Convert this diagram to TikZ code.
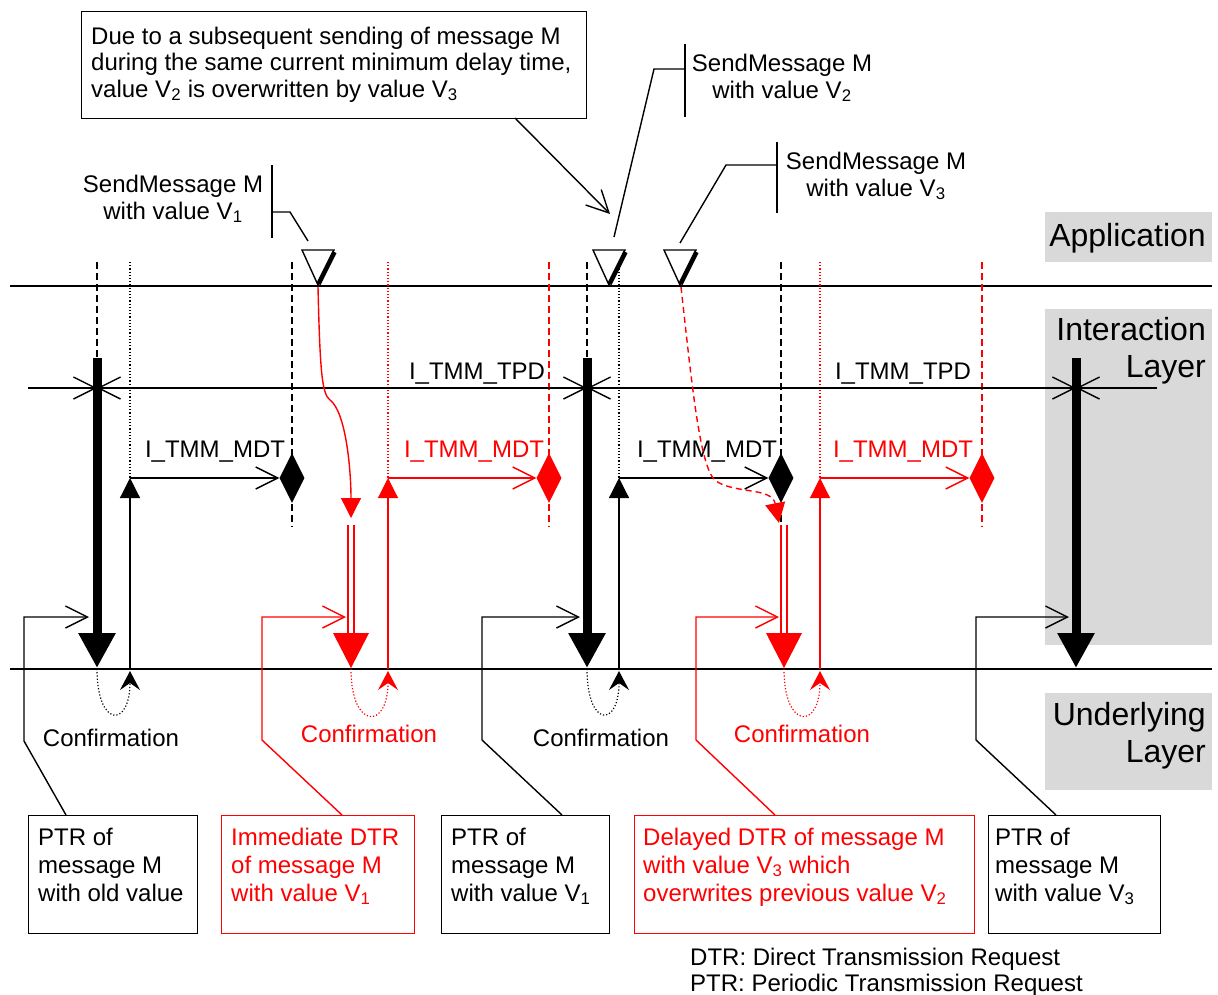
\documentclass[tikz,border=0pt]{standalone}
\usepackage{fontspec}
\setmainfont{Liberation Sans}
\usetikzlibrary{arrows.meta,shapes.geometric}
\definecolor{laygray}{RGB}{217,217,217}
\definecolor{myred}{RGB}{255,0,0}
\tikzset{
  txt/.style={font=\fontsize{24}{27}\selectfont, inner sep=0pt},
  boxtxt/.style={font=\fontsize{24}{28}\selectfont, inner sep=0pt, align=left, anchor=north west},
  big/.style={font=\fontsize{32}{37}\selectfont, inner sep=0pt, align=right},
  hline/.style={line width=1.8pt},
  thinl/.style={line width=1.4pt},
  upl/.style={line width=1.2pt},
  dashl/.style={line width=1.4pt, dash pattern=on 7pt off 4pt},
  dotl/.style={line width=1.2pt, dash pattern=on 1.2pt off 2pt},
  barb/.tip={Straight Barb[length=22pt,width=22pt]},
  uptip/.tip={Triangle[length=20pt,width=20pt]},
  conftip/.tip={Stealth[length=19pt,width=20pt,inset=7pt]},
  thickarrow/.style={line width=9pt, -{Triangle[length=35pt,width=35pt]}},
  diam/.style={shape=diamond, fill=#1, draw=none, minimum width=25pt, minimum height=50pt, inner sep=0pt},
  pbox/.style={draw, line width=1.4pt, minimum height=118pt, anchor=north west, inner sep=0pt},
  sym/.style={line width=1.4pt, fill=white},
}
\begin{document}
\begin{tikzpicture}[x=1pt,y=-1pt]
\useasboundingbox (0,0) rectangle (1218,994);
% layer backgrounds
\fill[laygray] (1045,212) rectangle (1212,262);
\fill[laygray] (1045,309) rectangle (1212,645);
\fill[laygray] (1045,693) rectangle (1212,790);
\node[big, anchor=base east] (app) at (1206,246) {Application};
\node[big, anchor=north east] (inter) at (1206,316.7) {Interaction\\Layer};
\node[big, anchor=north east] (under) at (1206,701.7) {Underlying\\Layer};
% layer lines
\draw[hline] (10,286) -- (1212,286);
\draw[hline] (10,669) -- (1212,669);
% guide lines group 1
\draw[dashl] (97,262) -- (97,358);
\draw[dotl] (130,262) -- (130,478);
\draw[dashl] (292,262) -- (292,527);
\draw[dotl, myred] (388,262) -- (388,478);
\draw[dashl, myred] (549,262) -- (549,527);
% guide lines group 2
\draw[dashl] (587,262) -- (587,358);
\draw[dotl] (619,262) -- (619,478);
\draw[dashl] (781,262) -- (781,527);
\draw[dotl, myred] (820,262) -- (820,478);
\draw[dashl, myred] (982,262) -- (982,527);
% diamonds
\node[diam=black] (d1) at (292,478) {};
\node[diam=myred] (d2) at (549,478) {};
\node[diam=black] (d3) at (781,478) {};
\node[diam=myred] (d4) at (982,478) {};
% TPD line
\coordinate (t0) at (28,388);
\coordinate (t1) at (97,388);
\coordinate (t2) at (587,388);
\coordinate (t3) at (1076,388);
\coordinate (t4) at (1157,388);
\draw[thinl, -barb] (t0) -- (t1);
\draw[thinl, barb-barb] (t1) -- (t2);
\draw[thinl, barb-barb] (t2) -- (t3);
\draw[thinl, barb-] (t3) -- (t4);
\node[txt, anchor=base] (tpd1) at (477,379) {I\_TMM\_TPD};
\node[txt, anchor=base] (tpd2) at (903,379) {I\_TMM\_TPD};
% thick PTR arrows
\draw[thickarrow] (97,358) -- (97,668);
\draw[thickarrow] (587,358) -- (587,668);
\draw[thickarrow] (1076,358) -- (1076,668);
% MDT starts (thin up arrows) and MDT arrows
\coordinate (u1b) at (130,669); \coordinate (u1t) at (130,478);
\coordinate (u2b) at (388,669); \coordinate (u2t) at (388,478);
\coordinate (u3b) at (619,669); \coordinate (u3t) at (619,478);
\coordinate (u4b) at (820,669); \coordinate (u4t) at (820,478);
\draw[upl, -uptip] (u1b) -- (u1t);
\draw[upl, myred, -uptip] (u2b) -- (u2t);
\draw[upl, -uptip] (u3b) -- (u3t);
\draw[upl, myred, -uptip] (u4b) -- (u4t);
\draw[thinl, -barb] (u1t) -- (d1.west);
\draw[thinl, myred, -barb] (u2t) -- (d2.west);
\draw[thinl, -barb] (u3t) -- (d3.west);
\draw[thinl, myred, -barb] (u4t) -- (d4.west);
\node[txt, anchor=base] (m1) at (215,457) {I\_TMM\_MDT};
\node[txt, anchor=base, text=myred] (m2) at (474,457) {I\_TMM\_MDT};
\node[txt, anchor=base] (m3) at (707,457) {I\_TMM\_MDT};
\node[txt, anchor=base, text=myred] (m4) at (903,457) {I\_TMM\_MDT};
% DTR red double arrows
\draw[myred, line width=2pt, double=white, double distance=3.5pt] (351,525) -- (351,638);
\fill[myred] (333,633) -- (369,633) -- (351,668) -- cycle;
\draw[myred, line width=2pt, double=white, double distance=3.5pt] (784,525) -- (784,638);
\fill[myred] (766,633) -- (802,633) -- (784,668) -- cycle;
% SendMessage symbols
\coordinate (a1) at (318,285);
\coordinate (a2) at (609,285);
\coordinate (a3) at (680,285);
\draw[sym] (302,250) -- (334,250) -- (a1) -- cycle;
\draw[line width=4.5pt] (318.5,284) -- (334.5,252);
\draw[sym] (593,250) -- (625,250) -- (a2) -- cycle;
\draw[line width=4.5pt] (609.5,284) -- (625.5,252);
\draw[sym] (664,250) -- (696,250) -- (a3) -- cycle;
\draw[line width=4.5pt] (680.5,284) -- (696.5,252);
% red curves from send events
\draw[myred, thinl, -uptip] (318,287) .. controls (320,372) and (322,394) .. (330,400)
   .. controls (346,412) and (351,470) .. (351,518);
\draw[myred, line width=1.4pt, dash pattern=on 6pt off 4pt, -uptip] (681,287)
   .. controls (692,385) and (700,470) .. (716,481)
   .. controls (735,494) and (772,487) .. (779,523);
% confirmations
\draw[dotl, -conftip] (97,669) .. controls (97,728) and (130,728) .. (130,671);
\draw[dotl, myred, -conftip] (351,669) .. controls (351,730) and (388,730) .. (388,671);
\draw[dotl, -conftip] (587,669) .. controls (587,728) and (619,728) .. (619,671);
\draw[dotl, myred, -conftip] (784,669) .. controls (784,730) and (820,730) .. (820,671);
\node[txt, anchor=base] (c1) at (111,746) {Confirmation};
\node[txt, anchor=base, text=myred] (c2) at (369,742) {Confirmation};
\node[txt, anchor=base] (c3) at (601,746) {Confirmation};
\node[txt, anchor=base, text=myred] (c4) at (802,742) {Confirmation};
% SendMessage labels
\node[txt, align=center, anchor=north] (s1) at (173,174.6) {SendMessage M\\with value V\textsubscript{1}};
\draw[thinl] (308,241) -- (290,212) -- (272,212);
\draw[thinl] (272,165) -- (272,238);
\node[txt, align=center, anchor=north] (s2) at (782,53.6) {SendMessage M\\with value V\textsubscript{2}};
\draw[thinl] (614,237) -- (654,69) -- (685,69);
\draw[thinl] (685,44) -- (685,117);
\node[txt, align=center, anchor=north] (s3) at (876,151.6) {SendMessage M\\with value V\textsubscript{3}};
\draw[thinl] (680,243) -- (726,165) -- (777,165);
\draw[thinl] (777,142) -- (777,213);
% note box
\node[draw, line width=1.4pt, minimum width=505pt, minimum height=107pt, anchor=north west, inner sep=0pt] (note) at (81,11) {};
\node[font=\fontsize{24}{26.5}\selectfont, inner sep=0pt, align=left, anchor=north west] (notet) at (91,26.6)
  {Due to a subsequent sending of message M\\during the same current minimum delay time,\\value V\textsubscript{2} is overwritten by value V\textsubscript{3}};
\coordinate (nb) at (515,118);
\coordinate (na) at (610,214);
\draw[thinl, -barb] (nb) -- (na);
% bottom boxes
\node[pbox, minimum width=169pt] (b1) at (28,815) {};
\node[boxtxt] (b1t) at (38,827.6) {PTR of\\message M\\with old value};
\node[pbox, minimum width=193pt, draw=myred] (b2) at (221,815) {};
\node[boxtxt, text=myred] (b2t) at (231,827.6) {Immediate DTR\\of message M\\with value V\textsubscript{1}};
\node[pbox, minimum width=168pt] (b3) at (441,815) {};
\node[boxtxt] (b3t) at (451,827.6) {PTR of\\message M\\with value V\textsubscript{1}};
\node[pbox, minimum width=340pt, draw=myred] (b4) at (634,815) {};
\node[boxtxt, text=myred] (b4t) at (643,827.6) {Delayed DTR of message M\\with value V\textsubscript{3} which\\overwrites previous value V\textsubscript{2}};
\node[pbox, minimum width=172pt] (b5) at (988,815) {};
\node[boxtxt] (b5t) at (995,827.6) {PTR of\\message M\\with value V\textsubscript{3}};
% box callouts
\draw[thinl, -barb] (66,815) -- (24,741) -- (24,617) -- (89,617);
\draw[thinl, myred, -barb] (342,815) -- (262,740) -- (262,617) -- (346,617);
\draw[thinl, -barb] (562,815) -- (482,740) -- (482,617) -- (580,617);
\draw[thinl, myred, -barb] (775,815) -- (696,740) -- (696,617) -- (779,617);
\draw[thinl, -barb] (1056,815) -- (976,740) -- (976,617) -- (1069,617);
% legend
\node[font=\fontsize{24}{26}\selectfont, inner sep=0pt, align=left, anchor=north west] (legend) at (690,947.6)
  {DTR: Direct Transmission Request\\PTR: Periodic Transmission Request};
\end{tikzpicture}
\end{document}
